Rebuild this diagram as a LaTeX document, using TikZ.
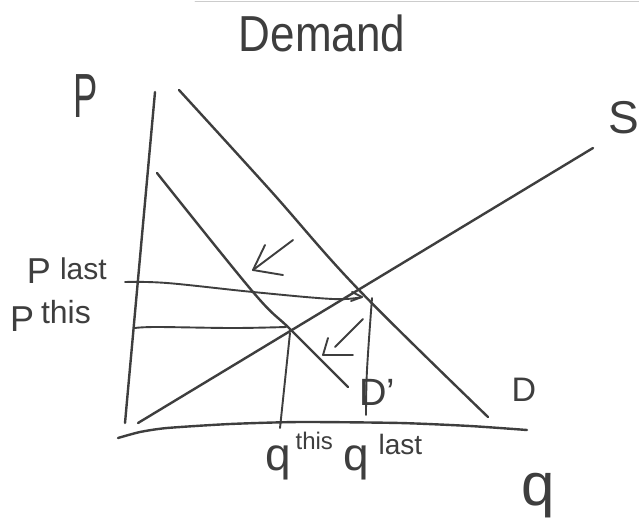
\documentclass[tikz,border=0pt]{standalone}
\usepackage{fontspec}
\setmainfont{Liberation Sans}
\definecolor{inkc}{RGB}{62,62,62}
\newcommand{\fs}[1]{\fontsize{#1}{#1}\selectfont}
\begin{document}
\begin{tikzpicture}[x=1pt,y=-1pt,line cap=round,line join=round,
  ink/.style={draw=inkc,line width=2.4pt},
  thin ink/.style={draw=inkc,line width=1.9pt},
  lbl/.style={text=inkc,inner sep=0pt,outer sep=0pt}]
\useasboundingbox[fill=white] (0,0) rectangle (639,525);
% scan edge
\coordinate (e0) at (195,1.5); \coordinate (e1) at (639,1.5);
\draw[gray!40,line width=1pt] (e0) -- (e1);
% key points
\coordinate (E1) at (358,289);
\coordinate (E2) at (291,330);
% axes
\coordinate (vtop) at (155,92); \coordinate (vbot) at (125,423);
\draw[ink] (vtop) -- (vbot);
\coordinate (h0) at (118,438); \coordinate (h1) at (140,432);
\coordinate (h2) at (167,428); \coordinate (h3) at (230,424);
\coordinate (h4) at (300,422); \coordinate (h5) at (400,423);
\coordinate (h6) at (470,426); \coordinate (h7) at (527,430);
\draw[ink] plot[smooth,tension=0.4] coordinates {(h0) (h1) (h2) (h3) (h4) (h5) (h6) (h7)};
% supply
\coordinate (s0) at (138,423); \coordinate (s1) at (593,148);
\draw[ink] (s0) -- (s1);
% demand D
\coordinate (d0) at (179,90); \coordinate (d1) at (270,190);
\coordinate (d2) at (488,417);
\draw[ink] plot[smooth,tension=0.6] coordinates {(d0) (d1) (E1) (d2)};
% demand D'
\coordinate (p0) at (157,173); \coordinate (p1) at (253,292);
\coordinate (p2) at (348,387);
\draw[ink] plot[smooth,tension=0.6] coordinates {(p0) (p1) (E2) (p2)};
% P last line (arrow to E1)
\coordinate (pl0) at (125,282); \coordinate (pl1) at (167,283);
\coordinate (pl2) at (253,292); \coordinate (pl3) at (333,299);
\coordinate (pl4) at (362,297);
\draw[thin ink] plot[smooth,tension=0.6] coordinates {(pl0) (pl1) (pl2) (pl3) (pl4)};
\coordinate (pla) at (352,292); \coordinate (plb) at (351,301);
\draw[thin ink] (pla) -- (pl4) -- (plb);
% P this line
\coordinate (pt0) at (135,328); \coordinate (pt1) at (157,327);
\coordinate (pt2) at (233,328); \coordinate (pt3) at (286,327);
\draw[thin ink] plot[smooth,tension=0.6] coordinates {(pt0) (pt1) (pt2) (pt3)};
% q this drop
\coordinate (qt0) at (290,333); \coordinate (qt1) at (280,428);
\draw[thin ink] (qt0) -- (qt1);
% q last drop
\coordinate (ql0) at (372,298); \coordinate (ql1) at (367,370);
\coordinate (ql2) at (366,415);
\draw[thin ink] plot[smooth,tension=0.6] coordinates {(ql0) (ql1) (ql2)};
% shift arrow 1
\coordinate (a1s) at (293,240); \coordinate (a1t) at (253,270);
\coordinate (a1u) at (265,245); \coordinate (a1r) at (283,275);
\draw[thin ink] (a1s) -- (a1t);
\draw[thin ink] (a1u) -- (a1t) -- (a1r);
% shift arrow 2
\coordinate (a2s) at (363,319); \coordinate (a2e) at (335,347);
\coordinate (a2t) at (323,355);
\coordinate (a2u) at (328,338); \coordinate (a2r) at (353,355);
\draw[thin ink] (a2s) -- (a2e);
\draw[thin ink] (a2u) -- (a2t) -- (a2r);
% labels
\node[lbl,font=\fs{44}] (title) at (322,33) {\scalebox{1}[1.15]{Demand}};
\node[lbl,font=\fs{52}] (Plab) at (86,96) {\scalebox{0.7}[1.2]{P}};
\node[lbl,font=\fs{46},anchor=east] (Slab) at (639,118) {S};
\node[lbl,anchor=base west] (plast) at (27,283)
  {{\fs{36}P}\hspace{9pt}\raisebox{4pt}{\fs{30}last}};
\node[lbl,anchor=base west] (pthis) at (10,331)
  {{\fs{36}P}\hspace{7pt}\raisebox{8pt}{\fs{32}this}};
\node[lbl,anchor=base west] (qthis) at (265,470)
  {{\fs{46}q}\hspace{5pt}\raisebox{21pt}{\fs{24}this}};
\node[lbl,anchor=base west] (qlast) at (343,470)
  {{\fs{46}q}\hspace{10pt}\raisebox{16pt}{\fs{28}last}};
\node[lbl,font=\fs{60}] (qlab) at (538,496) {q};
\node[lbl,font=\fs{34}] (Dlab) at (524,390) {D};
\node[lbl,font=\fs{38}] (Dplab) at (377,392) {D'};
\end{tikzpicture}
\end{document}
